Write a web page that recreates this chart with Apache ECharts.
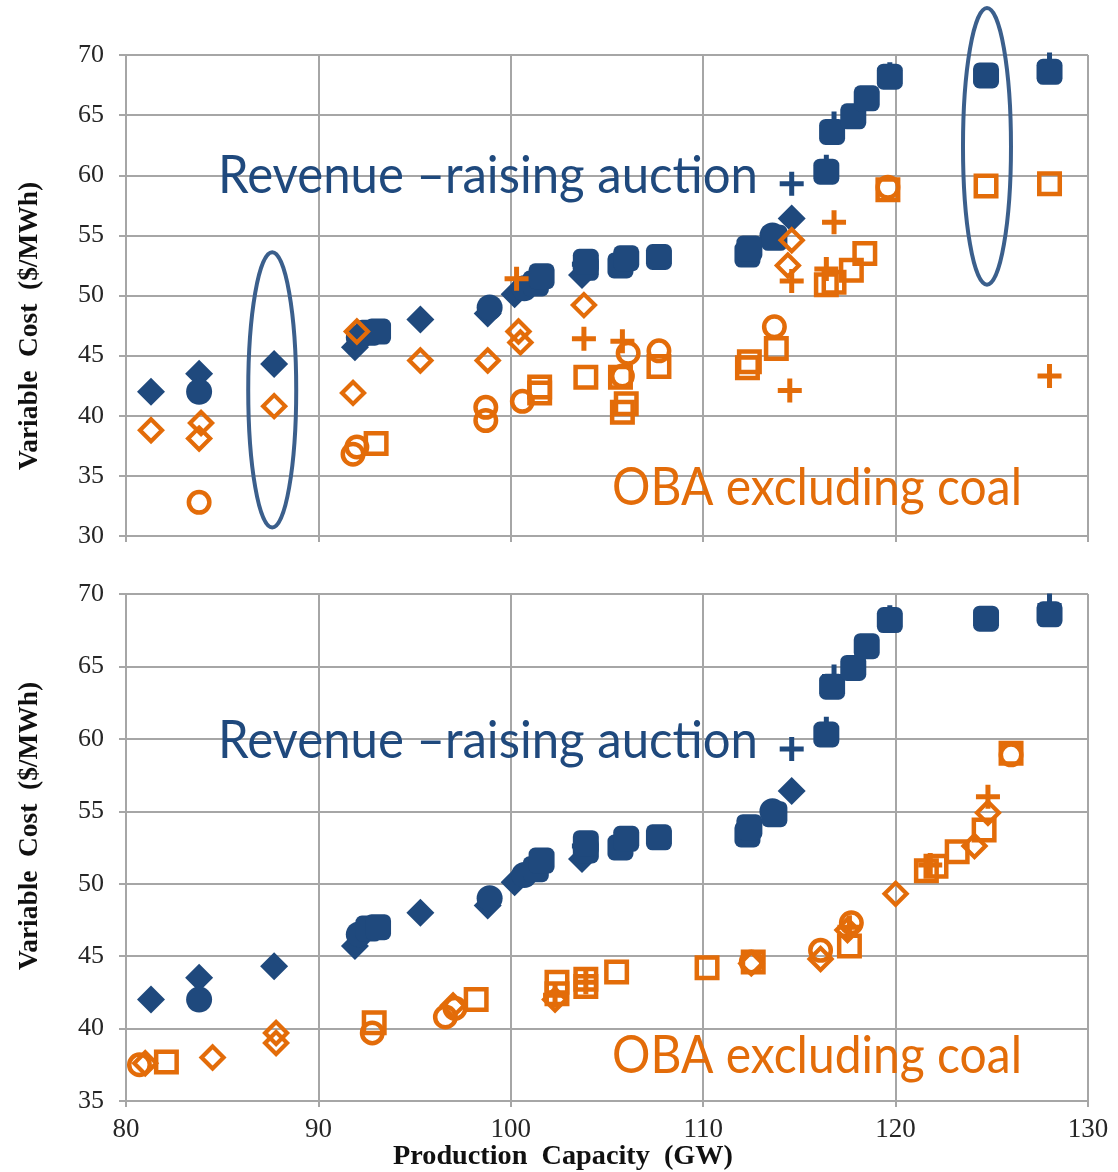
<!DOCTYPE html>
<html>
<head>
<meta charset="utf-8">
<script src="https://cdn.jsdelivr.net/npm/echarts@6/dist/echarts.min.js"></script>
<style>
  html, body { margin: 0; padding: 0; background: #fff; }
  #chart { width: 1118px; height: 1172px; }
</style>
</head>
<body>
<div id="chart"></div>
<script>
// x axis (GW) and y axis ($/MWh) ranges
var xMin = 80, xMax = 130, xStep = 10;
var yTopMin = 30, yBotMin = 35, yMax = 70, yStep = 5;

// revenue-raising auction (same in both panels)
var auctionDiamond = [[81.3,42.0],[83.8,43.5],[87.7,44.3],[91.9,45.7],[95.3,48.0],[98.8,48.5],[100.2,50.1],[103.7,51.7],[114.6,56.4]];
var auctionCircle = [[83.8,42.0],[92.1,46.5],[98.9,49.0],[100.7,50.6],[113.6,55.0]];
var auctionSquare = [[92.6,46.9],[93.1,47.0],[101.3,51.0],[101.6,51.6],[103.9,52.3],[103.9,52.8],[105.7,52.5],[106.0,53.1],[107.7,53.2],
  [112.3,53.4],[112.4,53.9],[113.7,54.8],[116.4,60.3],[116.7,63.6],[117.8,64.9],[118.5,66.4],[119.7,68.2],[124.7,68.3],[128.0,68.6]];
var auctionPlus = [[103.8,52.6],[114.6,59.3],[116.4,60.7],[116.8,64.3],[119.7,68.4],[128.0,69.2]];

// OBA excluding coal, top panel
var obaTopDiamond = [[81.3,38.8],[83.9,39.4],[83.8,38.1],[87.7,40.8],[91.8,41.9],[92.0,47.0],[95.3,44.6],[98.8,44.6],
  [100.4,47.0],[100.5,46.1],[103.8,49.2],[114.4,52.5],[114.6,54.6]];
var obaTopCircle = [[83.8,32.8],[91.8,36.8],[92.0,37.4],[98.7,39.6],[98.7,40.7],[100.6,41.2],[105.8,43.3],[106.1,45.2],
  [107.7,45.4],[113.7,47.4],[119.6,59.0]];
var obaTopSquare = [[93.0,37.7],[101.5,41.9],[101.5,42.4],[103.9,43.2],[105.7,43.2],[105.8,40.3],[106.0,41.0],[107.7,44.1],
  [112.3,44.0],[112.4,44.5],[113.8,45.6],[116.4,50.9],[116.8,51.1],[117.7,52.1],[118.4,53.5],[119.6,58.8],[124.7,59.1],[128.0,59.3]];
var obaTopPlus = [[100.3,51.4],[103.8,46.4],[105.8,46.2],[114.5,42.1],[114.6,51.2],[116.4,52.2],[116.8,56.1],[128.0,43.3]];

// OBA excluding coal, bottom panel
var obaBotDiamond = [[81.0,37.6],[84.5,38.0],[87.8,39.0],[87.8,39.7],[97.0,41.6],[102.3,42.0],[112.5,44.5],[116.1,44.8],
  [117.5,46.8],[120.0,49.3],[124.1,52.6],[124.8,54.9]];
var obaBotCircle = [[80.7,37.5],[92.8,39.7],[96.6,40.8],[97.1,41.4],[112.5,44.6],[116.1,45.4],[117.7,47.3],[126.0,58.9]];
var obaBotSquare = [[82.1,37.7],[92.9,40.4],[98.2,42.0],[102.4,43.2],[102.4,42.4],[103.9,43.4],[103.9,42.9],[105.5,43.9],
  [110.2,44.2],[112.6,44.6],[117.6,45.7],[121.6,50.9],[122.1,51.2],[123.2,52.2],[124.6,53.7],[126.0,59.0]];
var obaBotPlus = [[102.3,42.3],[103.9,43.2],[117.6,47.0],[121.8,51.3],[124.8,56.0]];

// circled groups in the top panel: [x centre, y top, y bottom]
var circledGroups = [[87.6, 53.6, 30.7], [124.75, 73.9, 50.9]];

var blue = '#1F497D';
var orange = '#E36C09';
var gridGray = '#A6A6A6';
var plusPath = 'path://M9.5,0h5v9.5h9.5v5h-9.5v9.5h-5v-9.5h-9.5v-5h9.5z';

function filled(name, data, sym, size, idx) {
    return {
        name: name, type: 'scatter', xAxisIndex: idx, yAxisIndex: idx,
        data: data, symbol: sym, symbolSize: size,
        itemStyle: {color: blue, opacity: 1},
        emphasis: {disabled: true}
    };
}
function hollow(name, data, sym, size, bw, idx) {
    return {
        name: name, type: 'scatter', xAxisIndex: idx, yAxisIndex: idx,
        data: data, symbol: sym, symbolSize: size,
        itemStyle: {color: 'rgba(0,0,0,0)', borderColor: orange, borderWidth: bw, opacity: 1},
        emphasis: {disabled: true}
    };
}
function orangePlus(name, data, idx) {
    return {
        name: name, type: 'scatter', xAxisIndex: idx, yAxisIndex: idx,
        data: data, symbol: plusPath, symbolSize: 24,
        itemStyle: {color: orange, opacity: 1},
        emphasis: {disabled: true}
    };
}

var series = [];
[0, 1].forEach(function (i) {
    series.push(filled('auction plus', auctionPlus, plusPath, 24, i));
    series.push(filled('auction diamond', auctionDiamond, 'diamond', 28, i));
    series.push(filled('auction circle', auctionCircle, 'circle', 26, i));
    series.push(filled('auction square', auctionSquare, 'roundRect', 26, i));
});
series.push(hollow('oba square', obaTopSquare, 'rect', 20.5, 4.5, 0));
series.push(hollow('oba circle', obaTopCircle, 'circle', 20.5, 4.5, 0));
series.push(hollow('oba diamond', obaTopDiamond, 'diamond', 22, 4.2, 0));
series.push(orangePlus('oba plus', obaTopPlus, 0));
series.push(hollow('oba square', obaBotSquare, 'rect', 20.5, 4.5, 1));
series.push(hollow('oba circle', obaBotCircle, 'circle', 20.5, 4.5, 1));
series.push(hollow('oba diamond', obaBotDiamond, 'diamond', 22, 4.2, 1));
series.push(orangePlus('oba plus', obaBotPlus, 1));

function xAxisOf(idx, showLabels) {
    return {
        type: 'value', gridIndex: idx, min: xMin, max: xMax, interval: xStep,
        axisLine: {show: true, onZero: false, lineStyle: {color: gridGray, width: 2}},
        axisTick: {show: true, length: 6, lineStyle: {color: gridGray, width: 2}},
        axisLabel: {show: showLabels, margin: 15, fontFamily: 'Liberation Serif', fontSize: 27, color: '#262626'},
        splitLine: {show: true, lineStyle: {color: gridGray, width: 2}}
    };
}
function yAxisOf(idx, min) {
    return {
        type: 'value', gridIndex: idx, min: min, max: yMax, interval: yStep,
        axisLine: {show: true, onZero: false, lineStyle: {color: gridGray, width: 2}},
        axisTick: {show: true, length: 7, lineStyle: {color: gridGray, width: 2}},
        axisLabel: {margin: 22, fontFamily: 'Liberation Serif', fontSize: 26, color: '#262626'},
        splitLine: {show: true, lineStyle: {color: gridGray, width: 2}}
    };
}

// squeeze a text to the width it has in the picture
var measureCtx = document.createElement('canvas').getContext('2d');
function fitScale(text, font, width) {
    measureCtx.font = font;
    return width / measureCtx.measureText(text).width;
}

var bigFont = '52px Lato';
var titleFont = 'bold 28px "Liberation Serif"';
function label(text, x, y, width, color) {
    return {
        type: 'text', x: x, y: y, scaleX: fitScale(text, bigFont, width), z: 100,
        style: {text: text, font: bigFont, fill: color, align: 'left', verticalAlign: 'middle'}
    };
}
function yTitle(y) {
    var t = 'Variable  Cost  ($/MWh)';
    return {
        type: 'text', x: 30, y: y, rotation: Math.PI / 2, scaleX: fitScale(t, titleFont, 288), z: 100,
        style: {text: t, font: titleFont, fill: '#111', align: 'center', verticalAlign: 'middle'}
    };
}
var xTitleText = 'Production  Capacity  (GW)';

var dom = document.getElementById('chart');
var myChart = echarts.init(dom);
var option = {
    animation: false,
    backgroundColor: '#fff',
    grid: [
        {left: 126, top: 55, width: 962, height: 481},
        {left: 126, top: 594, width: 962, height: 507}
    ],
    xAxis: [xAxisOf(0, false), xAxisOf(1, true)],
    yAxis: [yAxisOf(0, yTopMin), yAxisOf(1, yBotMin)],
    series: series
};
myChart.setOption(option);

var graphics = [
    label('Revenue \u2013raising auction', 218, 176, 540, blue),
    label('OBA excluding coal', 612, 488, 410, orange),
    label('Revenue \u2013raising auction', 218, 741, 540, blue),
    label('OBA excluding coal', 612, 1056, 410, orange),
    yTitle(326),
    yTitle(826),
    {
        type: 'text', x: 563, y: 1157, scaleX: fitScale(xTitleText, titleFont, 340), z: 100,
        style: {text: xTitleText, font: titleFont, fill: '#111', align: 'center', verticalAlign: 'middle'}
    }
];
circledGroups.forEach(function (g) {
    var top = myChart.convertToPixel({gridIndex: 0}, [g[0], g[1]]);
    var bot = myChart.convertToPixel({gridIndex: 0}, [g[0], g[2]]);
    graphics.push({
        type: 'ellipse', z: 90,
        shape: {cx: top[0], cy: (top[1] + bot[1]) / 2, rx: 24, ry: (bot[1] - top[1]) / 2},
        style: {fill: 'none', stroke: '#3B5F8C', lineWidth: 4}
    });
});
myChart.setOption({graphic: {elements: graphics}});
</script>
</body>
</html>
